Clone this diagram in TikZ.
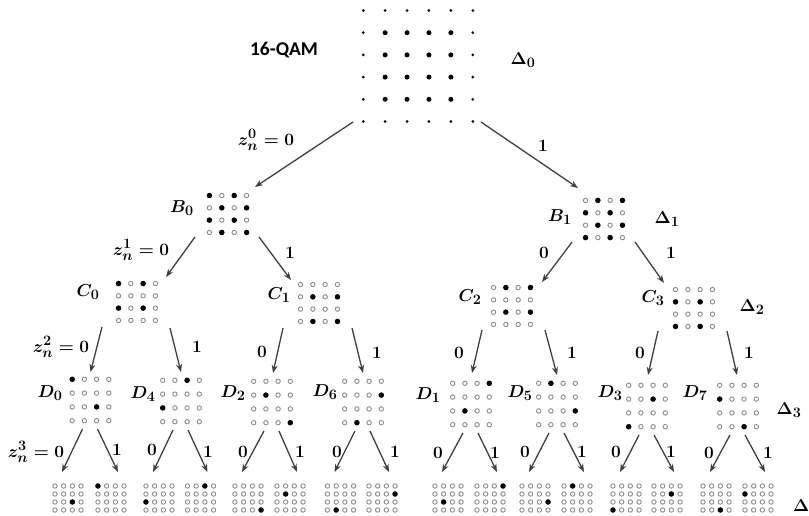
\documentclass[tikz,border=0pt]{standalone}
\usepackage{amsmath}
\usepackage{fontspec}
\newfontfamily\qamfont{Carlito}
\usetikzlibrary{arrows.meta,calc}

\tikzset{
  arr/.style={draw=black!75, line width=1.3pt, -{Stealth[length=8pt,width=6pt]}},
  lab/.style={font=\boldmath\fontsize{19}{22}\selectfont, inner sep=1pt},
  hole/.style={draw=black!45, line width=0.9pt, fill=white},
}

% one 4x4 subset: name, x, y, dx, dy, filled points col/row
\newcommand{\constel}[6]{%
  \node[inner sep=0pt, minimum width={3*#4+6}, minimum height={3*#5+6}] (#1) at (#2,#3) {};
  \foreach \i in {1,...,4}
    \foreach \j in {1,...,4}
      \draw[hole] ($(#1)+({(\i-2.5)*#4},{(\j-2.5)*#5})$) circle (2.2pt);
  \foreach \i/\j in {#6}
    \fill ($(#1)+({(\i-2.5)*#4},{(\j-2.5)*#5})$) circle (2.7pt);
}

\begin{document}
\begin{tikzpicture}[x=1pt,y=-1pt]
\useasboundingbox (0,0) rectangle (809,516);

% 16-QAM
\node[inner sep=0pt, minimum width=115, minimum height=117] (Q) at (418,66) {};
\foreach \i in {0,...,5}
  \foreach \j in {0,...,5} {
    \pgfmathsetmacro\rad{and(and(\i>0,\i<5),and(\j>0,\j<5)) ? 2.5 : 1.5}
    \fill ($(Q)+({(\i-2.5)*21.9},{(\j-2.5)*22.2})$) circle (\rad pt);
  }
\node[font=\qamfont\bfseries\fontsize{19.5}{22}\selectfont] (qam) at (284,50) {16-QAM};

% subsets
\constel{B0}{228}{214}{12.4}{12.3}{1/1,3/1,2/2,4/2,1/3,3/3,2/4,4/4}
\constel{B1}{604}{219}{12.3}{12.4}{2/1,4/1,1/2,3/2,2/3,4/3,1/4,3/4}
\constel{C0}{137}{302}{12.3}{12.3}{1/1,3/1,1/3,3/3}
\constel{C1}{319}{303}{12.3}{12.3}{2/2,4/2,2/4,4/4}
\constel{C2}{512}{306}{12.3}{12.3}{2/1,4/1,2/3,4/3}
\constel{C3}{694}{308}{12.3}{12.3}{1/2,3/2,1/4,3/4}
\constel{D0}{90.5}{400}{12.2}{13.8}{1/1,3/3}
\constel{D4}{181}{401}{12.2}{13.8}{3/1,1/3}
\constel{D2}{272}{402}{12.2}{13.8}{2/2,4/4}
\constel{D6}{363}{402}{12.2}{13.8}{4/2,2/4}
\constel{D1}{471}{404}{12.2}{13.8}{4/1,2/3}
\constel{D5}{557}{404}{12.2}{13.8}{2/1,4/3}
\constel{D3}{647}{406}{12.2}{13.8}{3/2,1/4}
\constel{D7}{738}{406}{12.2}{13.8}{1/2,3/4}
\foreach \n/\x/\cc/\rr in {E1/68/3/3, E2/111/1/1, E3/159/1/3, E4/200.5/3/1,
    E5/248/4/4, E6/290/2/2, E7/340.5/2/4, E8/382/4/2,
    E9/448/2/3, E10/490/4/1, E11/535/4/3, E12/577/2/1,
    E13/626/1/4, E14/667/3/2, E15/716/3/4, E16/758/1/2}
  {\constel{\n}{\x}{498}{8.7}{8}{\cc/\rr}}

% branches
\foreach \p/\c/\sx/\sy/\ex/\ey in {Q/B0/-65/56/27/-27, Q/B1/63/56/-26/-31,
    B0/C0/-33/23/29/-25, B0/C1/31/23/-28/-23, B1/C2/-32/23/30/-24, B1/C3/31/23/-30/-25,
    C0/D0/-35/25/0/-28, C0/D4/33/26/0/-29, C1/D2/-36/25/1/-29, C1/D6/33/25/0/-29,
    C2/D1/-30/24/1/-31, C2/D5/33/24/0/-29, C3/D3/-36/23/1/-31, C3/D7/33/23/-1/-31}
  \draw[arr] ($(\p)+(\sx,\sy)$) -- ($(\c)+(\ex,\ey)$);
\foreach \p/\l/\r in {D0/E1/E2, D4/E3/E4, D2/E5/E6, D6/E7/E8,
    D1/E9/E10, D5/E11/E12, D3/E13/E14, D7/E15/E16} {
  \draw[arr] ($(\p)+(-8,29)$) -- ($(\l)+(-6,-26)$);
  \draw[arr] ($(\p)+(7,29)$) -- ($(\r)+(7,-26)$);
}

% names and distances
\foreach \n/\x/\y/\t in {nB0/182/208/B_0, nB1/560/217/B_1, nC0/88/292/C_0, nC1/279/295/C_1,
    nC2/470/297/C_2, nC3/653/298/C_3, nD0/50/393/D_0, nD4/143/394/D_4, nD2/233/393/D_2,
    nD6/325/392/D_6, nD1/428/395/D_1, nD5/520/393/D_5, nD3/610/393/D_3, nD7/695/393/D_7,
    d0/523/60/\Delta_0, d1/667/219/\Delta_1, d2/752/307/\Delta_2, d3/789/410/\Delta_3}
  \node[lab] (\n) at (\x,\y) {$\t$};
\node[lab, anchor=west] (d4) at (792,506) {$\Delta$};

% bits
\foreach \n/\x/\y/\t in {l1/266/140/{z_n^0=0}, l2/543/146/1,
    l3/141/250/{z_n^1=0}, l4/290/253/1, l5/544/253/0, l6/671/253/1,
    l7/61/347/{z_n^2=0}, l8/197/347/1, l9/262/352/0, l10/377/353/1,
    l11/459/353/0, l12/572/353/1, l13/640/353/0, l14/749/353/1,
    l15/36/452/{z_n^3=0}, l16/117/450/1, l17/152/450/0, l18/208/452/1,
    l19/243/452/0, l20/300/452/1, l21/337/452/0, l22/395/452/1,
    l23/438/453/0, l24/495/453/1, l25/525/452/0, l26/582/452/1,
    l27/616/452/0, l28/671/452/1, l29/709/453/0, l30/768/453/1}
  \node[lab] (\n) at (\x,\y) {$\t$};
\end{tikzpicture}
\end{document}
